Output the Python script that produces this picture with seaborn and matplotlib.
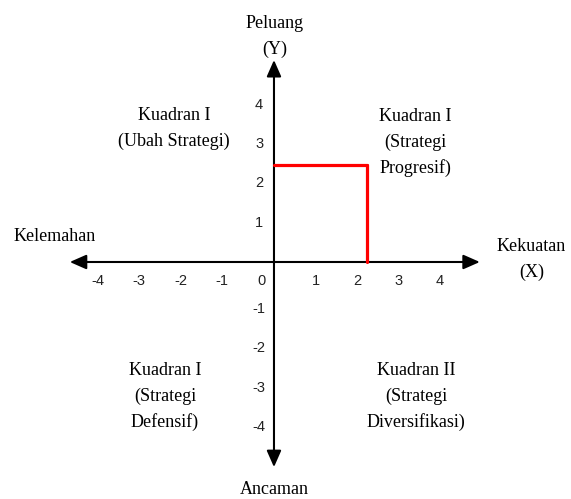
import matplotlib
matplotlib.use("Agg")
import matplotlib.pyplot as plt
from matplotlib.patches import FancyArrowPatch
import seaborn as sns
import pandas as pd

# ---- data ----
point_x = 2.24          # Kekuatan (strength) score
point_y = 2.48          # Peluang (opportunity) score
x_tick_values = [-4, -3, -2, -1, 1, 2, 3, 4]
y_tick_values = [4, 3, 2, 1, -1, -2, -3, -4]
origin_label = "0"
axis_top = ["Peluang", "(Y)"]
axis_bottom = ["Ancaman"]
axis_left = ["Kelemahan"]
axis_right = ["Kekuatan", "(X)"]
quad_top_left = ["Kuadran I", "(Ubah Strategi)"]
quad_top_right = ["Kuadran I", "(Strategi", "Progresif)"]
quad_bottom_left = ["Kuadran I", "(Strategi", "Defensif)"]
quad_bottom_right = ["Kuadran II", "(Strategi", "Diversifikasi)"]

sns.set_theme(style="white")
serif = ["Liberation Serif", "DejaVu Serif"]
sans = ["Liberation Sans", "DejaVu Sans"]
plt.rcParams["font.family"] = serif

fig = plt.figure(figsize=(5.71, 4.99), dpi=100)
ax = fig.add_axes([0, 0, 1, 1])
ax.set_xlim(-6.602, 7.157)
ax.set_ylim(-6.031, 6.667)
ax.axis("off")

# axes arrows
arrow_style = "<|-|>,head_length=0.5,head_width=0.22"
for (x0, y0), (x1, y1) in [((-4.92, 0), (4.96, 0)), ((0, -5.22), (0, 5.14))]:
    ax.add_patch(FancyArrowPatch((x0, y0), (x1, y1), arrowstyle=arrow_style,
                                 mutation_scale=20, color="black", lw=1.5,
                                 shrinkA=0, shrinkB=0, zorder=2))

# red position lines
seg = pd.DataFrame({
    "x": [0, point_x, point_x, point_x],
    "y": [point_y, point_y, point_y, 0],
    "seg": ["h", "h", "v", "v"],
})
sns.lineplot(data=seg, x="x", y="y", units="seg", estimator=None, sort=False,
             color="#ff0000", lw=2.3, ax=ax, zorder=3, legend=False)

# tick labels
tick_kw = dict(fontsize=10.5, family=sans, color="#222222", ha="center", va="center")
for v in x_tick_values:
    ax.text(v + (-0.25 if v < 0 else 0), -0.48, str(v), **tick_kw)
for v in y_tick_values:
    ax.text(-0.36, v + (-0.2 if v < 0 else 0), str(v), **tick_kw)
ax.text(-0.31, -0.48, origin_label, **tick_kw)

step = 0.66
txt_kw = dict(fontsize=13, ha="center", va="center", color="black")

def lines(x, y, items):
    for i, s in enumerate(items):
        ax.text(x, y - i * step, s, **txt_kw)

lines(0.02, 6.08, axis_top)
lines(0.0, -5.78, axis_bottom)
lines(-5.29, 0.66, axis_left)
lines(6.2, 0.40, axis_right)
lines(-2.41, 3.74, quad_top_left)
lines(3.40, 3.70, quad_top_right)
lines(-2.63, -2.75, quad_bottom_left)
lines(3.42, -2.75, quad_bottom_right)

fig.savefig("out.png", dpi=100)
